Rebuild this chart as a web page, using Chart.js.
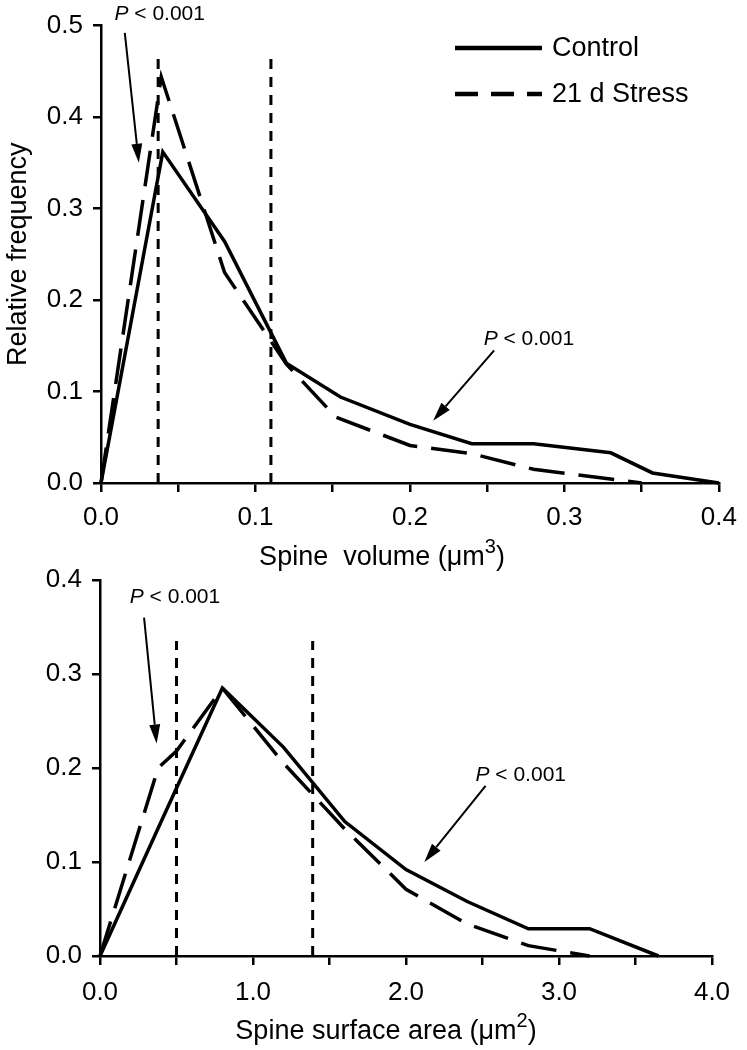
<!DOCTYPE html>
<html>
<head>
<meta charset="utf-8">
<title>Spine volume and surface area distributions</title>
<script src="https://cdn.jsdelivr.net/npm/chart.js@4.4.1/dist/chart.umd.min.js"></script>
<style>
    html, body { margin: 0; padding: 0; background: #fff; }
    #figure { position: relative; width: 747px; height: 1050px; overflow: hidden; }
    .panel { position: absolute; left: 0; width: 747px; }
    #volumePanel { top: 0; height: 580px; }
    #areaPanel { top: 540px; height: 510px; }
</style>
</head>
<body>
<div id="figure">
    <div class="panel" id="volumePanel"><canvas id="volumeChart" width="747" height="580"></canvas></div>
    <div class="panel" id="areaPanel"><canvas id="areaChart" width="747" height="510"></canvas></div>
</div>
<script>
// Spine size distributions, Control vs 21 d Stress

// ---- values ----
const seriesNames = ['Control', '21 d Stress'];

// top panel: spine volume (um^3)
const volumeControlX = [0, 0.04, 0.08, 0.12, 0.155, 0.2, 0.24, 0.28, 0.33, 0.357, 0.4];
const volumeControlY = [0, 0.362, 0.264, 0.131, 0.094, 0.064, 0.043, 0.043, 0.033, 0.011, 0];
const volumeStressX = [0, 0.039, 0.08, 0.12, 0.152, 0.2, 0.24, 0.28, 0.322, 0.35];
const volumeStressY = [0, 0.444, 0.23, 0.13, 0.072, 0.041, 0.032, 0.015, 0.006, 0];
const volumeCutoffs = [0.037, 0.11];
const volumeCutoffTop = 0.465;

// bottom panel: spine surface area (um^2)
const areaControlX = [0, 0.4, 0.8, 1.2, 1.6, 2.0, 2.4, 2.8, 3.2, 3.65];
const areaControlY = [0, 0.143, 0.285, 0.222, 0.143, 0.092, 0.058, 0.029, 0.029, 0];
const areaStressX = [0, 0.38, 0.5, 0.8, 1.2, 1.6, 2.0, 2.4, 2.8, 3.2];
const areaStressY = [0, 0.2, 0.218, 0.285, 0.205, 0.135, 0.071, 0.034, 0.011, 0];
const areaCutoffs = [0.5, 1.39];
const areaCutoffTop = 0.335;

// tick labels
const volumeXTickLabels = ['0.0', '0.1', '0.2', '0.3', '0.4'];
const volumeYTickLabels = ['0.0', '0.1', '0.2', '0.3', '0.4', '0.5'];
const areaXTickLabels = ['0.0', '1.0', '2.0', '3.0', '4.0'];
const areaYTickLabels = ['0.0', '0.1', '0.2', '0.3', '0.4'];

const FONT = '"Liberation Sans", Arial, Helvetica, sans-serif';

function toPoints(xs, ys) {
    return xs.map((x, i) => ({ x: x, y: ys[i] }));
}

// label only the values listed, keep the tick mark for the rest
function tickLabel(labels, value) {
    const hit = labels.find(l => Math.abs(parseFloat(l) - value) < 1e-6);
    return hit !== undefined ? hit : '';
}

function drawArrow(ctx, x1, y1, x2, y2) {
    const ang = Math.atan2(y2 - y1, x2 - x1);
    const head = 19, half = 5.5;
    const bx = x2 - head * Math.cos(ang);
    const by = y2 - head * Math.sin(ang);
    ctx.beginPath();
    ctx.moveTo(x1, y1);
    ctx.lineTo(bx, by);
    ctx.lineWidth = 2;
    ctx.stroke();
    ctx.beginPath();
    ctx.moveTo(x2, y2);
    ctx.lineTo(bx + half * Math.sin(ang), by - half * Math.cos(ang));
    ctx.lineTo(bx - half * Math.sin(ang), by + half * Math.cos(ang));
    ctx.closePath();
    ctx.fill();
}

// text, superscripts, arrows and the legend are drawn on top of the chart
const decorPlugin = {
    id: 'decor',
    afterDraw(chart, args, opts) {
        const ctx = chart.ctx;
        const xs = chart.scales.x, ys = chart.scales.y;
        ctx.save();
        ctx.fillStyle = '#000';
        ctx.strokeStyle = '#000';
        ctx.textBaseline = 'middle';
        ctx.setLineDash([]);

        // P-value notes with arrows
        (opts.notes || []).forEach(n => {
            const cx = xs.getPixelForValue(n.at[0]);
            const cy = ys.getPixelForValue(n.at[1]);
            ctx.font = 'italic 21px ' + FONT;
            const wP = ctx.measureText('P').width;
            ctx.font = '21px ' + FONT;
            const rest = ' < 0.001';
            const wR = ctx.measureText(rest).width;
            const left = cx - (wP + wR) / 2;
            ctx.textAlign = 'left';
            ctx.font = 'italic 21px ' + FONT;
            ctx.fillText('P', left, cy);
            ctx.font = '21px ' + FONT;
            ctx.fillText(rest, left + wP, cy);
            drawArrow(ctx,
                xs.getPixelForValue(n.from[0]), ys.getPixelForValue(n.from[1]),
                xs.getPixelForValue(n.to[0]), ys.getPixelForValue(n.to[1]));
        });

        // x-axis title with superscript
        if (opts.xTitle) {
            const t = opts.xTitle;
            const parts = t.parts.map(p => {
                ctx.font = (p.sup ? '20px ' : '27px ') + FONT;
                return { text: p.text, sup: p.sup, w: ctx.measureText(p.text).width };
            });
            const total = parts.reduce((s, p) => s + p.w, 0);
            let x = t.x - total / 2;
            ctx.textAlign = 'left';
            parts.forEach(p => {
                ctx.font = (p.sup ? '20px ' : '27px ') + FONT;
                ctx.fillText(p.text, x, p.sup ? t.y - 11 : t.y);
                x += p.w;
            });
        }

        // y-axis title
        if (opts.yTitle) {
            ctx.save();
            ctx.translate(opts.yTitle.x, (chart.chartArea.top + chart.chartArea.bottom) / 2);
            ctx.rotate(-Math.PI / 2);
            ctx.textAlign = 'center';
            ctx.font = '27px ' + FONT;
            ctx.fillText(opts.yTitle.text, 0, 0);
            ctx.restore();
        }

        // legend
        if (opts.legend) {
            const lg = opts.legend;
            const series = chart.data.datasets.filter(d => d.label);
            series.forEach((d, i) => {
                const y = lg.y + i * lg.rowGap;
                ctx.beginPath();
                ctx.setLineDash(d.borderDash && d.borderDash.length ? lg.dash : []);
                ctx.lineWidth = 4.5;
                ctx.moveTo(lg.x, y);
                ctx.lineTo(lg.x + lg.lineLen, y);
                ctx.stroke();
                ctx.setLineDash([]);
                ctx.textAlign = 'left';
                ctx.font = '27px ' + FONT;
                ctx.fillText(d.label, lg.x + lg.lineLen + lg.textGap, y + 1);
            });
        }
        ctx.restore();
    }
};

function buildChart(canvasId, cfg) {
    const datasets = [
        {
            label: seriesNames[0],
            data: toPoints(cfg.controlX, cfg.controlY),
            borderColor: '#000',
            borderWidth: 3.5,
            tension: 0,
            pointRadius: 0,
            clip: 6
        },
        {
            label: seriesNames[1],
            data: toPoints(cfg.stressX, cfg.stressY),
            borderColor: '#000',
            borderWidth: 3.5,
            borderDash: [36, 14],
            tension: 0,
            pointRadius: 0,
            clip: 6
        }
    ];
    cfg.cutoffs.forEach(c => {
        datasets.push({
            data: [{ x: c, y: 0 }, { x: c, y: cfg.cutoffTop }],
            borderColor: '#000',
            borderWidth: 3,
            borderDash: [10, 8],
            pointRadius: 0
        });
    });

    const tickFont = { family: FONT, size: 26 };

    return new Chart(document.getElementById(canvasId), {
        type: 'line',
        data: { datasets: datasets },
        plugins: [decorPlugin],
        options: {
            responsive: false,
            animation: false,
            layout: { padding: cfg.padding },
            plugins: {
                legend: { display: false },
                tooltip: { enabled: false },
                decor: cfg.decor
            },
            scales: {
                x: {
                    type: 'linear',
                    min: 0,
                    max: cfg.xMax,
                    afterFit: s => { s.height = cfg.xAxisHeight; },
                    ticks: {
                        stepSize: cfg.xStep,
                        color: '#000',
                        font: tickFont,
                        padding: cfg.xTickPad,
                        maxRotation: 0,
                        autoSkip: false,
                        callback: v => tickLabel(cfg.xLabels, v)
                    },
                    grid: { drawOnChartArea: false, drawTicks: true, tickLength: 9, color: '#000', lineWidth: 2.5 },
                    border: { display: true, color: '#000', width: 2.5 }
                },
                y: {
                    type: 'linear',
                    min: 0,
                    max: cfg.yMax,
                    afterFit: s => { s.width = cfg.yAxisWidth; },
                    ticks: {
                        stepSize: 0.1,
                        color: '#000',
                        font: tickFont,
                        padding: 10,
                        callback: v => tickLabel(cfg.yLabels, v)
                    },
                    grid: { drawOnChartArea: false, drawTicks: true, tickLength: 8, color: '#000', lineWidth: 2.5 },
                    border: { display: true, color: '#000', width: 2.5 }
                }
            }
        }
    });
}

buildChart('volumeChart', {
    controlX: volumeControlX, controlY: volumeControlY,
    stressX: volumeStressX, stressY: volumeStressY,
    cutoffs: volumeCutoffs, cutoffTop: volumeCutoffTop,
    xMax: 0.4, xStep: 0.05, yMax: 0.5,
    xLabels: volumeXTickLabels, yLabels: volumeYTickLabels,
    padding: { top: 19, right: 21, left: 0, bottom: 0 },
    yAxisWidth: 101, xAxisHeight: 97, xTickPad: 10,
    decor: {
        notes: [
            { at: [0.038, 0.512], from: [0.0154, 0.492], to: [0.0245, 0.35] },
            { at: [0.277, 0.157], from: [0.2545, 0.145], to: [0.215, 0.068] }
        ],
        xTitle: { x: 382, y: 558, parts: [{ text: 'Spine  volume (\u03bcm' }, { text: '3', sup: true }, { text: ')' }] },
        yTitle: { x: 19, text: 'Relative frequency' },
        legend: { x: 455, y: 48, lineLen: 87, rowGap: 46, textGap: 10, dash: [23, 13] }
    }
});

buildChart('areaChart', {
    controlX: areaControlX, controlY: areaControlY,
    stressX: areaStressX, stressY: areaStressY,
    cutoffs: areaCutoffs, cutoffTop: areaCutoffTop,
    xMax: 4, xStep: 0.5, yMax: 0.4,
    xLabels: areaXTickLabels, yLabels: areaYTickLabels,
    padding: { top: 40, right: 35, left: 0, bottom: 0 },
    yAxisWidth: 100, xAxisHeight: 94, xTickPad: 12,
    decor: {
        notes: [
            { at: [0.49, 0.382], from: [0.288, 0.36], to: [0.37, 0.226] },
            { at: [2.75, 0.192], from: [2.52, 0.181], to: [2.12, 0.1] }
        ],
        xTitle: { x: 386, y: 492, parts: [{ text: 'Spine surface area (\u03bcm' }, { text: '2', sup: true }, { text: ')' }] }
    }
});
</script>
</body>
</html>
